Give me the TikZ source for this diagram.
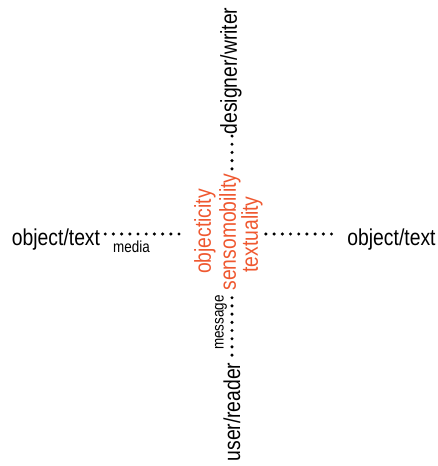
\documentclass[tikz,border=0pt]{standalone}
\usepackage{fontspec}
\setmainfont{Liberation Sans}[FakeStretch=0.84]
\usepackage{xcolor}
\definecolor{rustOrange}{RGB}{239,88,48}
\usetikzlibrary{positioning}

\begin{document}
\begin{tikzpicture}[x=1pt, y=1pt,
	    pole/.style={inner sep=0pt, text=black, font=\fontsize{23}{24}\selectfont},
	    quality/.style={inner sep=0pt, text=rustOrange, rotate=90, font=\fontsize{23}{24}\selectfont},
	    channel/.style={inner sep=0pt, text=black, font=\fontsize{16}{17}\selectfont},
	    dots/.style={draw=black, line width=3.4pt, line cap=round, dash pattern=on 0pt off 8.2pt}]
	    
	    \useasboundingbox (0,0) rectangle (438,466);
	    \coordinate (hub) at (232,232);
	    
	    \node [quality] (obj) at (205,234.5) {objecticity};
	    \node [quality] (senso) at (230,234) {sensomobility};
	    \node [quality] (textu) at (252,231.5) {textuality};
	    
	    \node [pole] (left) at (56,226.5) {object/text};
	    \node [pole] (right) at (391.5,226.5) {object/text};
	    \node [pole, rotate=90] (designer) at (231,395) {designer/writer};
	    \node [pole, rotate=90] (user) at (232,54) {user/reader};
	    
	    \node [channel] (media) at (131.5,219) {media};
	    \node [channel, rotate=90] (message) at (221,143.5) {message};
	    
	    \path [dots, shorten <=5pt, shorten >=9pt] (left.east |- hub) -- (obj.north |- hub);
	    \path [dots, shorten <=3pt, shorten >=9pt] (textu.south |- hub) -- (right.west |- hub);
	    \path [dots, shorten <=1.5pt, shorten >=1pt] (hub |- designer.west) -- (hub |- senso.east);
	    \path [dots, shorten <=7pt, shorten >=6pt] (hub |- senso.west) -- (hub |- user.east);
	\end{tikzpicture}
\end{document}
